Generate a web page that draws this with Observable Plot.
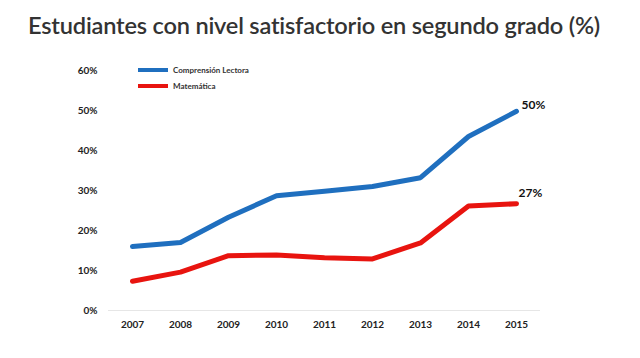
<!DOCTYPE html>
<html><head><meta charset="utf-8">
<script src="https://cdn.jsdelivr.net/npm/d3@7"></script>
<script src="https://cdn.jsdelivr.net/npm/@observablehq/plot@0.6"></script>
<style>
body{margin:0;background:#fff;width:640px;height:358px;overflow:hidden;position:relative;font-family:Lato,"Open Sans",sans-serif}
#title{position:absolute;left:28px;top:11px;font-size:23.6px;color:#333;font-weight:600;white-space:nowrap;letter-spacing:-0.2px}
#chart{position:absolute;left:0;top:52px}
#legend{position:absolute;left:138px;top:62px;font-size:8px;font-weight:bold;color:#333}
.li{display:flex;align-items:center;height:16px}
.sw{width:30px;height:4px;margin-right:5px}
</style></head>
<body>
<div id="title">Estudiantes con nivel satisfactorio en segundo grado (%)</div>
<div id="chart"></div>
<div id="legend"></div>
<script>
const years = ["2007","2008","2009","2010","2011","2012","2013","2014","2015"];
const series = ["Comprensión Lectora","Matemática"];
const lectora = [16.0, 17.0, 23.3, 28.7, 29.8, 31.0, 33.2, 43.5, 49.8];
const matematica = [7.3, 9.6, 13.7, 13.9, 13.2, 12.9, 16.9, 26.1, 26.7];
const endLabels = ["50%","27%"];
const yTicks = [0,10,20,30,40,50,60];
const colors = ["#1f6fbf","#e8140f"];

const data = [];
years.forEach((y,i)=>{
  data.push({year:y, value:lectora[i], serie:series[0]});
  data.push({year:y, value:matematica[i], serie:series[1]});
});
const ends = [
  {year:years[years.length-1], value:lectora[lectora.length-1], label:endLabels[0], serie:series[0]},
  {year:years[years.length-1], value:matematica[matematica.length-1], label:endLabels[1], serie:series[1]}
];

const plot = Plot.plot({
  width:640, height:306,
  marginLeft:108, marginRight:100, marginTop:18, marginBottom:48,
  style:{fontFamily:"Lato, 'Open Sans', sans-serif", fontSize:"10px", fontWeight:"bold", color:"#222", background:"#fff"},
  x:{type:"point", domain:years, padding:0.5, label:null, tickSize:0, tickPadding:10},
  y:{domain:[0,60], ticks:yTicks, tickFormat:d=>d+"%", label:null, tickSize:0, tickPadding:11},
  color:{domain:series, range:colors},
  marks:[
    Plot.ruleY([0],{stroke:"#e6e6e6", strokeWidth:1}),
    Plot.line(data,{x:"year", y:"value", z:"serie", stroke:"serie", strokeWidth:5, strokeLinecap:"round", strokeLinejoin:"round"}),
    Plot.text(ends.slice(0,1),{x:"year", y:"value", text:"label", dx:5, dy:-6, textAnchor:"start", fontSize:12, fontWeight:"bold", fill:"#111"}),
    Plot.text(ends.slice(1),{x:"year", y:"value", text:"label", dx:2, dy:-11, textAnchor:"start", fontSize:12, fontWeight:"bold", fill:"#111"})
  ]
});
document.getElementById("chart").appendChild(plot);

const lg = document.getElementById("legend");
series.forEach((s,i)=>{
  const d = document.createElement("div"); d.className="li";
  d.innerHTML = `<span class="sw" style="background:${colors[i]}"></span><span>${s}</span>`;
  lg.appendChild(d);
});
</script>
</body></html>
